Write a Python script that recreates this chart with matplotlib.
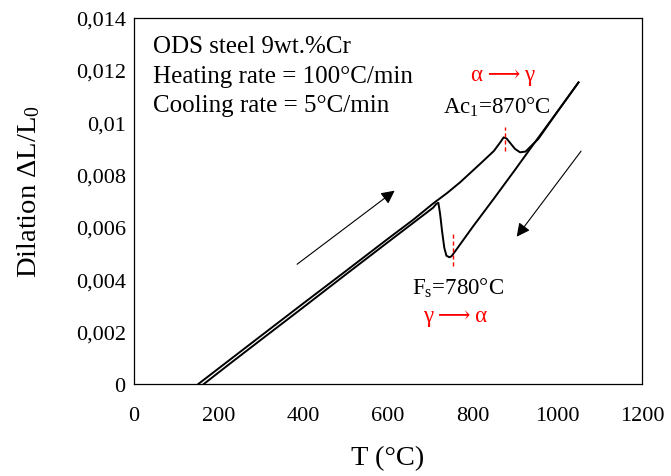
import matplotlib
matplotlib.use("Agg")
import matplotlib.pyplot as plt

plt.rcParams['font.family'] = ['Liberation Serif', 'DejaVu Serif']
plt.rcParams['mathtext.fontset'] = 'custom'
plt.rcParams['mathtext.rm'] = 'Liberation Serif'
plt.rcParams['mathtext.it'] = 'Liberation Serif'

# heating curve (T in °C, dilation)
heat_T = [152, 230, 300, 400, 500, 600, 660, 707, 740, 770, 817, 850, 866, 873,
          880, 890, 900, 912, 925, 943, 955, 1000, 1050]
heat_d = [0.0, 0.00097, 0.00184, 0.00308, 0.00431, 0.00555, 0.00628, 0.00690,
          0.0073, 0.0077, 0.0084, 0.0089, 0.00925, 0.00942, 0.00938, 0.00918,
          0.00898, 0.00885, 0.00888, 0.00917, 0.00936, 0.01040, 0.01152]

# cooling curve
cool_T = [1050, 1000, 950, 900, 850, 800, 760, 750, 745, 738, 733, 728, 723,
          719, 714, 707, 600, 500, 400, 300, 230, 165]
cool_d = [0.01152, 0.01040, 0.00930, 0.00818, 0.00708, 0.00600, 0.00510,
          0.00488, 0.00484, 0.0049, 0.0052, 0.0058, 0.0065, 0.00692, 0.00688,
          0.00674, 0.00542, 0.00418, 0.00293, 0.00169, 0.00082, 0.0]

x_ticks = [0, 200, 400, 600, 800, 1000, 1200]
y_ticks = [0, 0.002, 0.004, 0.006, 0.008, 0.01, 0.012, 0.014]
y_labels = ['0', '0,002', '0,004', '0,006', '0,008', '0,01', '0,012', '0,014']

ac1_T = 876
fs_T = 754

fig = plt.figure(figsize=(6.71, 4.77), dpi=100)
ax = fig.add_axes([0.1997, 0.1929, 0.7571, 0.7683])

ax.plot(heat_T, heat_d, color='black', lw=1.4)
ax.plot(cool_T, cool_d, color='black', lw=1.4)

# transformation markers
ax.plot([ac1_T, ac1_T], [0.0089, 0.00982], color='red', lw=1, ls=(0, (3, 2)))
ax.plot([fs_T, fs_T], [0.00451, 0.00573], color='red', lw=1, ls=(0, (3, 2)))

# direction arrows
ax.annotate('', xy=(621, 0.00745), xytext=(380, 0.00451),
            arrowprops=dict(arrowstyle='-|>', color='black', lw=0.8,
                            mutation_scale=20))
ax.annotate('', xy=(900, 0.00554), xytext=(1060, 0.00898),
            arrowprops=dict(arrowstyle='-|>', color='black', lw=0.8,
                            mutation_scale=20))

fs = 18
ax.text(0.037, 0.923, 'ODS steel 9wt.%Cr', transform=ax.transAxes,
        fontsize=fs, va='center')
ax.text(0.037, 0.841, 'Heating rate = 100°C/min', transform=ax.transAxes,
        fontsize=fs, va='center')
ax.text(0.037, 0.760, 'Cooling rate = 5°C/min', transform=ax.transAxes,
        fontsize=fs, va='center')

fa = 16.5
ax.text(872, 0.01184, 'α\u2009⟶\u2009γ', color='red', fontsize=fa, ha='center', va='center')
ax.text(858, 0.01062, r'Ac$_1$=870°C', fontsize=fa, ha='center', va='center')
ax.text(765, 0.00371, r'F$_s$=780°C', fontsize=fa, ha='center', va='center')
ax.text(758, 0.0026, 'γ\u2009⟶\u2009α', color='red', fontsize=fa, ha='center', va='center')

ax.set_xlim(0, 1200)
ax.set_ylim(0, 0.014)
ax.set_xticks(x_ticks)
ax.set_xticklabels([str(t) for t in x_ticks])
ax.set_yticks(y_ticks)
ax.set_yticklabels(y_labels)
ax.tick_params(length=0, labelsize=16)
ax.tick_params(axis='x', pad=16)
ax.tick_params(axis='y', pad=6)
for s in ax.spines.values():
    s.set_linewidth(0.9)

ax.set_xlabel('T (°C)', fontsize=20.5, labelpad=14)
ax.set_ylabel(r'Dilation ΔL/L$_0$', fontsize=20.5)
ax.yaxis.set_label_coords(-0.181, 0.527)

fig.savefig('out.png', dpi=100)
